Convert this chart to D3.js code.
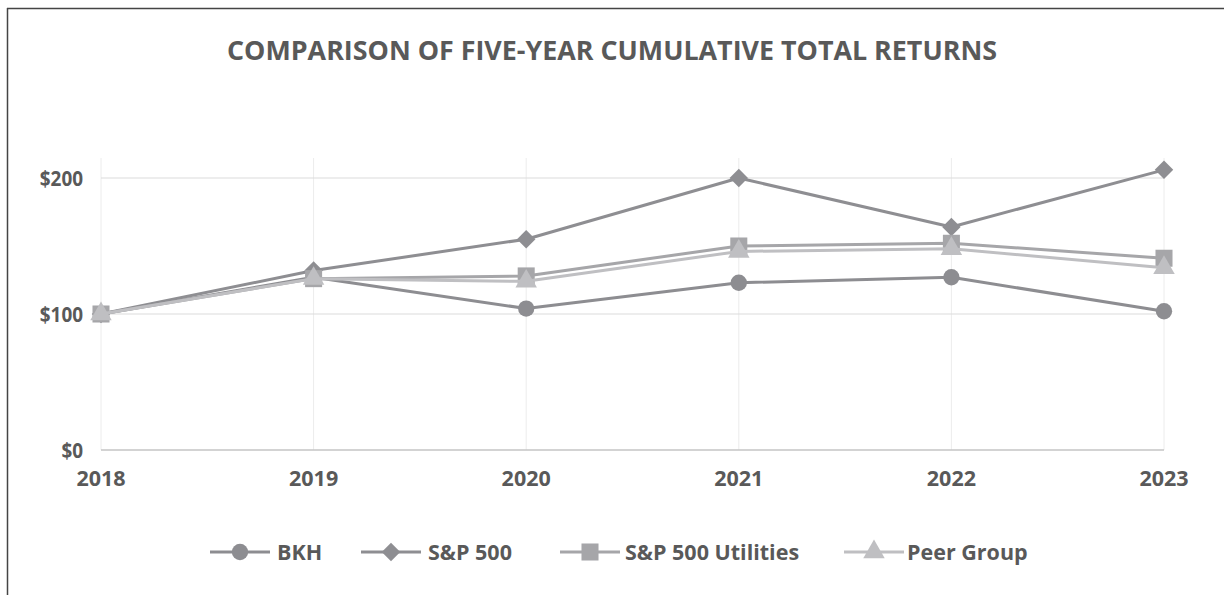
<!DOCTYPE html>
<html><head><meta charset="utf-8">
<script src="https://cdn.jsdelivr.net/npm/d3@7"></script>
<style>html,body{margin:0;padding:0;background:#fff;}svg{display:block;}</style>
</head><body>
<svg id="chart" width="1224" height="595"></svg>
<script>
const years = ["2018","2019","2020","2021","2022","2023"];
const bkh = [100, 127, 104, 123, 127, 102];
const sp500 = [100, 132, 155, 200, 164, 206];
const spUtilities = [100, 126, 128, 150, 152, 141];
const peerGroup = [100, 126, 124, 146, 148, 134];
const yTicks = [0, 100, 200];
const seriesNames = ["BKH", "S&P 500", "S&P 500 Utilities", "Peer Group"];

const series = [
  {name: seriesNames[0], values: bkh, color: "#8d8d91", sym: d3.symbolCircle, size: 210, rot: 0},
  {name: seriesNames[1], values: sp500, color: "#8e8e92", sym: d3.symbolSquare, size: 170, rot: 45},
  {name: seriesNames[2], values: spUtilities, color: "#a6a6a9", sym: d3.symbolSquare, size: 290, rot: 0},
  {name: seriesNames[3], values: peerGroup, color: "#bfbfc2", sym: d3.symbolTriangle, size: 200, rot: 0}
];

const svg = d3.select("#chart");
const textColor = "#595959";
const font = "'Open Sans', 'Liberation Sans', sans-serif";

// border (left & top)
svg.append("line").attr("x1",7.5).attr("x2",7.5).attr("y1",8).attr("y2",595).attr("stroke","#444").attr("stroke-width",1.5);
svg.append("line").attr("x1",7).attr("x2",1224).attr("y1",8.5).attr("y2",8.5).attr("stroke","#444").attr("stroke-width",1.5);

svg.append("text").attr("x",612).attr("y",60).attr("text-anchor","middle")
  .attr("font-family",font).attr("font-weight","bold").attr("font-size",27)
  .attr("fill",textColor).attr("textLength",770).attr("lengthAdjust","spacingAndGlyphs")
  .text("COMPARISON OF FIVE-YEAR CUMULATIVE TOTAL RETURNS");

const x = d3.scalePoint().domain(years).range([101,1164]);
const y = d3.scaleLinear().domain([0,200]).range([450,178]);
const plotTop = 158;

// vertical gridlines
svg.append("g").selectAll("line").data(years).join("line")
  .attr("x1",d=>x(d)).attr("x2",d=>x(d)).attr("y1",plotTop).attr("y2",450)
  .attr("stroke","#ececec").attr("stroke-width",1);
// horizontal gridlines
svg.append("g").selectAll("line").data(yTicks).join("line")
  .attr("x1",x(years[0])).attr("x2",x(years[years.length-1]))
  .attr("y1",d=>y(d)).attr("y2",d=>y(d))
  .attr("stroke",d=>d===0?"#c4c4c4":"#dcdcdc").attr("stroke-width",d=>d===0?1.5:1.2);

// y labels
svg.append("g").selectAll("text").data(yTicks).join("text")
  .attr("x",83).attr("y",d=>y(d)).attr("dy","0.36em").attr("text-anchor","end")
  .attr("font-family",font).attr("font-weight","bold").attr("font-size",21)
  .attr("fill",textColor).text(d=>"$"+d)
  .each(function(){ this.setAttribute("textLength", this.getComputedTextLength()*0.9); })
  .attr("lengthAdjust","spacingAndGlyphs");
// x labels
svg.append("g").selectAll("text").data(years).join("text")
  .attr("x",d=>x(d)).attr("y",486).attr("text-anchor","middle")
  .attr("font-family",font).attr("font-weight","bold").attr("font-size",21.5)
  .attr("fill",textColor).text(d=>d);

const line = d3.line().x((d,i)=>x(years[i])).y(d=>y(d));

series.forEach(s=>{
  const g = svg.append("g");
  g.append("path").datum(s.values).attr("d",line).attr("fill","none")
    .attr("stroke",s.color).attr("stroke-width",3).attr("stroke-linejoin","round");
  g.selectAll("path.m").data(s.values).join("path").attr("class","m")
    .attr("transform",(d,i)=>`translate(${x(years[i])},${y(d)}) rotate(${s.rot})`)
    .attr("d",d3.symbol().type(s.sym).size(s.size)).attr("fill",s.color);
});

// legend
const legendItems = [
  {lx: 210, tx: 277},
  {lx: 361, tx: 428},
  {lx: 560, tx: 625},
  {lx: 844, tx: 907}
];
const ly = 552;
series.forEach((s,i)=>{
  const L = legendItems[i];
  const g = svg.append("g");
  g.append("line").attr("x1",L.lx).attr("x2",L.lx+60).attr("y1",ly).attr("y2",ly)
    .attr("stroke",s.color).attr("stroke-width",3);
  g.append("path").attr("transform",`translate(${L.lx+30},${ly}) rotate(${s.rot})`)
    .attr("d",d3.symbol().type(s.sym).size(s.size)).attr("fill",s.color);
  g.append("text").attr("x",L.tx).attr("y",ly).attr("dy","0.36em")
    .attr("font-family",font).attr("font-weight","bold").attr("font-size",21.5)
    .attr("fill",textColor).text(s.name);
});
</script>
</body></html>
